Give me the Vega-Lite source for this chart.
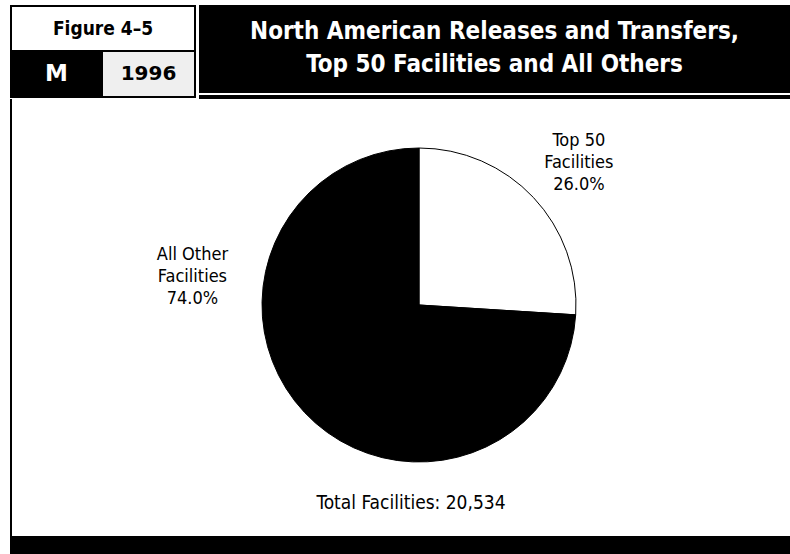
{
  "$schema": "https://vega.github.io/schema/vega-lite/v6.json",
  "background": "white",
  "padding": {"left": 10, "top": 5, "right": 0, "bottom": 0},
  "config": {
    "view": {"stroke": null},
    "text": {"font": "Liberation Sans Narrow, DejaVu Sans Condensed, sans-serif", "color": "black"},
    "concat": {"spacing": 0}
  },
  "spacing": 0,
  "vconcat": [
    {
      "spacing": 3,
      "hconcat": [
        {
          "spacing": 0,
          "vconcat": [
            {
              "width": 186, "height": 2,
              "view": {"fill": "black"},
              "data": {"values": [{}]},
              "mark": {"type": "text", "text": "", "fontSize": 0}
            },
            {
              "spacing": 0,
              "hconcat": [
                {
                  "width": 2, "height": 43,
                  "view": {"fill": "black"},
                  "data": {"values": [{}]},
                  "mark": {"type": "text", "text": "", "fontSize": 0}
                },
                {
                  "width": 182, "height": 43,
                  "view": {"fill": "white"},
                  "data": {"values": [{}]},
                  "mark": {"type": "text", "text": "Figure 4–5", "fontSize": 19, "fontWeight": "bold"}
                },
                {
                  "width": 2, "height": 43,
                  "view": {"fill": "black"},
                  "data": {"values": [{}]},
                  "mark": {"type": "text", "text": "", "fontSize": 0}
                }
              ]
            },
            {
              "spacing": 0,
              "hconcat": [
                {
                  "width": 93, "height": 48,
                  "view": {"fill": "black"},
                  "data": {"values": [{}]},
                  "mark": {"type": "text", "text": "M", "fontSize": 23, "fontWeight": "bold", "font": "DejaVu Sans, sans-serif", "color": "white"}
                },
                {
                  "spacing": 0,
                  "vconcat": [
                    {
                      "width": 91, "height": 2,
                      "view": {"fill": "black"},
                      "data": {"values": [{}]},
                      "mark": {"type": "text", "text": "", "fontSize": 0}
                    },
                    {
                      "width": 91, "height": 44,
                      "view": {"fill": "#efefef"},
                      "data": {"values": [{}]},
                      "mark": {"type": "text", "text": "1996", "fontSize": 20, "fontWeight": "bold", "font": "DejaVu Sans, sans-serif"}
                    },
                    {
                      "width": 91, "height": 2,
                      "view": {"fill": "black"},
                      "data": {"values": [{}]},
                      "mark": {"type": "text", "text": "", "fontSize": 0}
                    }
                  ]
                },
                {
                  "width": 2, "height": 48,
                  "view": {"fill": "black"},
                  "data": {"values": [{}]},
                  "mark": {"type": "text", "text": "", "fontSize": 0}
                }
              ]
            }
          ]
        },
        {
          "spacing": 2,
          "vconcat": [
            {
              "width": 591, "height": 88,
              "view": {"fill": "black"},
              "data": {"values": [{}]},
              "mark": {"type": "text", "text": ["North American Releases and Transfers,", "Top 50 Facilities and All Others"], "fontSize": 24, "lineHeight": 33, "fontWeight": "bold", "color": "white", "baseline": "middle", "dy": -17}
            },
            {
              "width": 591, "height": 4,
              "view": {"fill": "black"},
              "data": {"values": [{}]},
              "mark": {"type": "text", "text": "", "fontSize": 0}
            }
          ]
        }
      ]
    },
    {
      "spacing": 0,
      "hconcat": [
        {
          "width": 2, "height": 437,
          "view": {"fill": "black"},
          "data": {"values": [{}]},
          "mark": {"type": "text", "text": "", "fontSize": 0}
        },
        {
          "spacing": 0,
          "vconcat": [
            {
              "width": 10, "height": 26,
              "data": {"values": [{}]},
              "mark": {"type": "text", "text": "", "fontSize": 0}
            },
            {
              "spacing": 0,
              "hconcat": [
                {
                  "width": 57, "height": 360,
                  "data": {"values": [{}]},
                  "mark": {"type": "text", "text": "", "fontSize": 0}
                },
                {
                  "width": 700, "height": 360,
                  "data": {"values": [
                    {"category": "Top 50 Facilities", "pct": 26.0, "label": "Top 50\nFacilities\n26.0%"},
                    {"category": "All Other Facilities", "pct": 74.0, "label": "All Other\nFacilities\n74.0%"}
                  ]},
                  "encoding": {
                    "theta": {"field": "pct", "type": "quantitative", "stack": true},
                    "order": {"field": "pct", "sort": "ascending"}
                  },
                  "layer": [
                    {
                      "mark": {"type": "arc", "radius": 157, "stroke": "black", "strokeWidth": 1},
                      "encoding": {
                        "color": {
                          "field": "category", "type": "nominal",
                          "scale": {"domain": ["Top 50 Facilities", "All Other Facilities"], "range": ["white", "black"]},
                          "legend": null
                        }
                      }
                    },
                    {
                      "mark": {
                        "type": "text",
                        "radius": {"expr": "datum.category == 'Top 50 Facilities' ? 229 : 232"},
                        "thetaOffset": {"expr": "datum.category == 'Top 50 Facilities' ? -0.044 : 0.971"},
                        "lineBreak": "\n",
                        "fontSize": 18,
                        "lineHeight": 22,
                        "align": "center",
                        "baseline": "middle"
                      },
                      "encoding": {
                        "text": {"field": "label", "type": "nominal"}
                      }
                    }
                  ]
                }
              ]
            },
            {
              "spacing": 0,
              "hconcat": [
                {
                  "width": 49, "height": 36,
                  "data": {"values": [{}]},
                  "mark": {"type": "text", "text": "", "fontSize": 0}
                },
                {
                  "width": 700, "height": 36,
                  "data": {"values": [{}]},
                  "mark": {"type": "text", "text": "Total Facilities: 20,534", "fontSize": 19}
                }
              ]
            }
          ]
        }
      ]
    },
    {
      "width": 780, "height": 18,
      "view": {"fill": "black"},
      "data": {"values": [{}]},
      "mark": {"type": "text", "text": "", "fontSize": 0}
    }
  ]
}
